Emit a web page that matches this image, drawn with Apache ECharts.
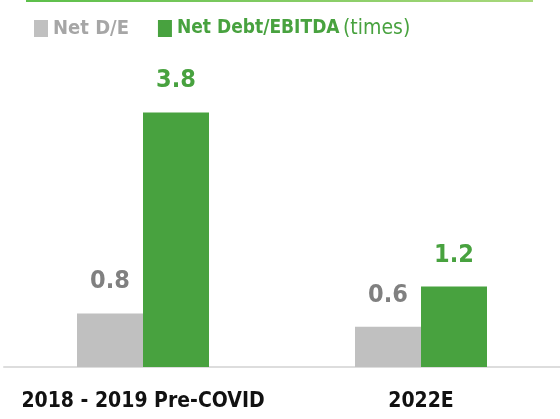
<!DOCTYPE html>
<html>
<head>
<meta charset="utf-8">
<script src="https://cdn.jsdelivr.net/npm/echarts@6/dist/echarts.min.js"></script>
<style>
  html, body { margin: 0; padding: 0; background: #fff; }
  #chart { width: 560px; height: 419px; }
</style>
</head>
<body>
<div id="chart"></div>
<script>
const categories = ['2018 - 2019 Pre-COVID', '2022E']
const netDE = [0.8, 0.6]
const netDebtEbitda = [3.8, 1.2]

const GREEN = '#48a23f'
const GREY = '#c0c0c0'
const FONT = 'DejaVu Sans Condensed'

const chart = echarts.init(document.getElementById('chart'))

chart.setOption({
  animation: false,
  textStyle: { fontFamily: FONT },
  graphic: [
    {
      type: 'rect',
      shape: { x: 26, y: 0, width: 507, height: 2 },
      style: {
        fill: new echarts.graphic.LinearGradient(0, 0, 1, 0, [
          { offset: 0, color: '#5cbf4a' },
          { offset: 1, color: '#a9d87c' }
        ])
      }
    }
  ],
  legend: {
    left: 29,
    top: 13,
    icon: 'rect',
    itemWidth: 14,
    itemHeight: 17,
    itemGap: 29,
    data: [
      { name: 'Net D/E', textStyle: { color: '#a6a6a6' } },
      { name: 'Net Debt/EBITDA', textStyle: { color: GREEN } }
    ],
    formatter: name => {
      return name === 'Net Debt/EBITDA' ? '{b|Net Debt/EBITDA} {t|(times)}' : '{g|' + name + '}'
    },
    textStyle: {
      rich: {
        g: { fontFamily: FONT, fontSize: 20, fontWeight: 'bold', color: '#a6a6a6' },
        b: { fontFamily: FONT, fontSize: 19, fontWeight: 'bold', color: GREEN },
        t: { fontFamily: FONT, fontSize: 21, color: GREEN }
      }
    }
  },
  grid: {
    left: 4,
    right: 0,
    top: 99,
    bottom: 52
  },
  xAxis: {
    type: 'category',
    data: categories,
    axisTick: { show: false },
    axisLine: { lineStyle: { color: '#dddddd', width: 2 } },
    axisLabel: {
      interval: 0,
      color: '#111',
      fontFamily: FONT,
      fontWeight: 'bold',
      fontSize: 21,
      margin: 24
    }
  },
  yAxis: {
    type: 'value',
    min: 0,
    max: 4,
    show: false
  },
  series: [
    {
      name: 'Net D/E',
      type: 'bar',
      data: netDE,
      barWidth: 66,
      barGap: 0,
      itemStyle: { color: GREY },
      label: {
        show: true,
        position: 'top',
        distance: 19,
        color: '#808080',
        fontFamily: FONT,
        fontWeight: 'bold',
        fontSize: 25,
        formatter: p => p.value.toFixed(1)
      }
    },
    {
      name: 'Net Debt/EBITDA',
      type: 'bar',
      data: netDebtEbitda,
      barWidth: 66,
      barGap: 0,
      itemStyle: { color: GREEN },
      label: {
        show: true,
        position: 'top',
        distance: 19,
        color: GREEN,
        fontFamily: FONT,
        fontWeight: 'bold',
        fontSize: 25,
        formatter: p => p.value.toFixed(1)
      }
    }
  ]
})
</script>
</body>
</html>
